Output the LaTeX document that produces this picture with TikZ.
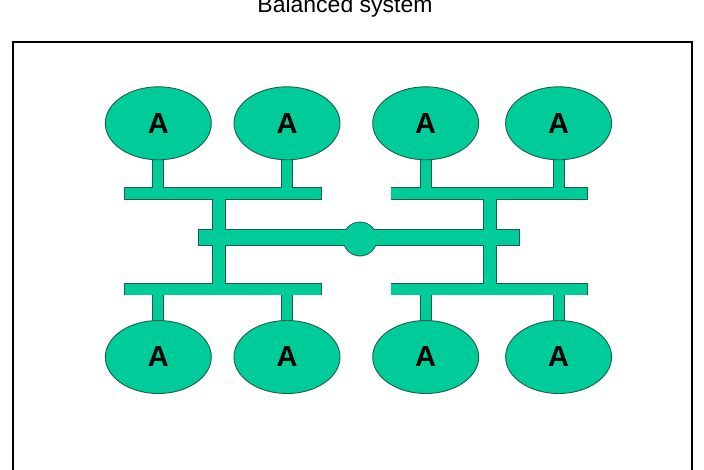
\documentclass[tikz,border=0pt]{standalone}
\usepackage{fontspec}
\setmainfont{Liberation Sans}
\usetikzlibrary{shapes.geometric}
\definecolor{pipe}{RGB}{0,204,153}
\definecolor{edgec}{RGB}{30,95,75}

\begin{document}
\begin{tikzpicture}[
  x=1pt, y=-1pt,
  blob/.style={ellipse, draw=edgec, line width=0.9pt, fill=pipe, inner sep=0pt,
    minimum width=106pt, minimum height=73pt, font=\fontsize{29}{33}\selectfont\bfseries},
  bar/.style={rectangle, inner sep=0pt, outer sep=0pt, minimum width=#1},
  bar/.default=195.6pt
]
  \useasboundingbox (0,0) rectangle (704,469);
  \clip (0,0) rectangle (704,469);

  \node[anchor=base, font=\fontsize{23}{27}\selectfont] (title) at (345,12.7) {Balanced system};
  \draw[line width=2pt] (12.5,41.7) rectangle (691.5,500);

  \node[bar] (tl) at (222.8,193.7) {};
  \node[bar] (tr) at (489.2,193.7) {};
  \node[bar] (bl) at (222.8,289.2) {};
  \node[bar] (br) at (489.2,289.2) {};
  \node[bar=319.6pt] (mb) at (358.8,237.5) {};
  \node[circle, inner sep=0pt, minimum size=33pt] (hub) at (360,239) {};
  \coordinate (vl) at (219.2,0);
  \coordinate (vr) at (490.3,0);

  \coordinate (t1) at (158.3,123.3);
  \coordinate (t2) at (287,123.3);
  \coordinate (t3) at (425.7,123.3);
  \coordinate (t4) at (558.6,123.3);
  \coordinate (b1) at (158.3,357);
  \coordinate (b2) at (287,357);
  \coordinate (b3) at (425.7,357);
  \coordinate (b4) at (558.6,357);

  \foreach \ex/\col/\sh/\rr in {1.8/edgec/-0.9/17.4, 0/pipe/0/16.5} {
    \begin{scope}[draw=\col, fill=\col, line cap=butt, shorten <=\sh pt, shorten >=\sh pt]
      \draw[line width=10.7pt+\ex pt] (tl.west) -- (tl.east);
      \draw[line width=10.7pt+\ex pt] (tr.west) -- (tr.east);
      \draw[line width=10.7pt+\ex pt] (bl.west) -- (bl.east);
      \draw[line width=10.7pt+\ex pt] (br.west) -- (br.east);
      \draw[line width=15.5pt+\ex pt] (mb.west) -- (mb.east);
      \draw[line width=12pt+\ex pt] (vl |- tl.center) -- (vl |- bl.center);
      \draw[line width=12pt+\ex pt] (vr |- tr.center) -- (vr |- br.center);
      \foreach \i/\b in {1/tl,2/tl,3/tr,4/tr} {
        \draw[line width=10pt+\ex pt] (t\i) -- (t\i |- \b.center);
      }
      \foreach \i/\b in {1/bl,2/bl,3/br,4/br} {
        \draw[line width=10pt+\ex pt] (b\i) -- (b\i |- \b.center);
      }
      \fill (hub.center) circle [radius=\rr];
    \end{scope}
  }

  \foreach \i in {1,...,4} {
    \node[blob] (top\i) at (t\i) {A};
    \node[blob] (bot\i) at (b\i) {A};
  }
\end{tikzpicture}
\end{document}
